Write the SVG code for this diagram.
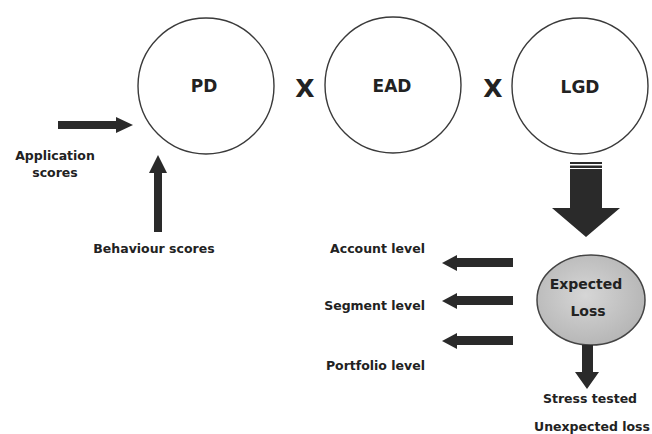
<svg xmlns="http://www.w3.org/2000/svg" width="652" height="434" viewBox="0 0 652 434">
<style>
.c{fill:#fff;stroke:#3a3a3a;stroke-width:1.4}
.t{font-family:"DejaVu Sans","Liberation Sans",Arial,sans-serif;font-weight:bold;fill:#222}
.lbl{font-size:12.5px}
.big{font-size:17px;text-anchor:middle}
.x{font-size:25px;text-anchor:middle}
.a{fill:#2a2a2a}
</style>
<defs>
<radialGradient id="g" cx="0.45" cy="0.45" r="0.6">
<stop offset="0" stop-color="#d6d6d6"/>
<stop offset="1" stop-color="#b4b4b4"/>
</radialGradient>
</defs>
<rect width="652" height="434" fill="#fff"/>
<g id="pd"><circle class="c" cx="206" cy="86" r="68"/><text class="t big" x="204" y="92">PD</text></g>
<text class="t x" x="305" y="97">X</text>
<g id="ead"><circle class="c" cx="393" cy="85" r="68"/><text class="t big" x="392" y="92">EAD</text></g>
<text class="t x" x="493" y="97">X</text>
<g id="lgd"><circle class="c" cx="580" cy="86" r="68"/><text class="t big" x="580" y="93">LGD</text></g>
<g id="el"><ellipse cx="591" cy="300" rx="54" ry="45" fill="url(#g)" stroke="#444" stroke-width="1.5"/>
<text class="t" font-size="14" text-anchor="middle" x="586" y="289">Expected</text>
<text class="t" font-size="14" text-anchor="middle" x="588" y="316">Loss</text></g>
<g id="app"><text class="t lbl" text-anchor="middle" x="55" y="160">Application</text><text class="t lbl" text-anchor="middle" x="55" y="177">scores</text></g>
<g id="beh"><text class="t lbl" text-anchor="middle" x="154" y="253">Behaviour scores</text></g>
<g id="acc"><text class="t lbl" text-anchor="end" x="425" y="253">Account level</text></g>
<g id="seg"><text class="t lbl" text-anchor="end" x="425" y="310">Segment level</text></g>
<g id="port"><text class="t lbl" text-anchor="end" x="425" y="370">Portfolio level</text></g>
<g id="stress"><text class="t lbl" text-anchor="middle" x="590" y="403">Stress tested</text></g>
<g id="unexp"><text class="t lbl" text-anchor="middle" x="592" y="431">Unexpected loss</text></g>
<g id="connectors">
<polygon class="a" points="58,121 116,121 116,117 133,125 116,133 116,129 58,129"/>
<polygon class="a" points="154,232 154,173 149,173 158,155 167,173 162,173 162,232"/>
<polygon class="a" points="570,162 602,162 602,208 620,208 586,237 552,208 570,208"/>
<rect x="570" y="164" width="32" height="1.5" fill="#fff"/>
<rect x="570" y="168" width="32" height="1" fill="#fff"/>
<polygon class="a" points="513,258 457,258 457,255 442,263 457,271 457,267 513,267"/>
<polygon class="a" points="513,296 457,296 457,293 442,301 457,309 457,305 513,305"/>
<polygon class="a" points="513,336 457,336 457,333 442,341 457,349 457,345 513,345"/>
<polygon class="a" points="582,345 593,345 593,372 599,372 587,389 575,372 582,372"/>
</g>
</svg>
